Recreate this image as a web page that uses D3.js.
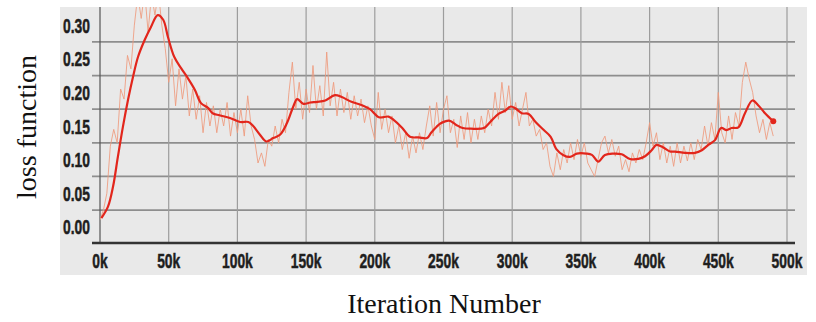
<!DOCTYPE html>
<html>
<head>
<meta charset="utf-8">
<script src="https://cdn.jsdelivr.net/npm/d3@7"></script>
<style>
  body { margin: 0; background: #fff; }
  .tick-label { font-family: 'Liberation Sans', Arial, sans-serif; font-weight: bold; font-size: 21px; fill: #1e1e1e; stroke: #1e1e1e; stroke-width: 0.5px; }
  .title { font-family: 'Liberation Serif', 'Times New Roman', serif; font-size: 28px; fill: #111; }
</style>
</head>
<body>
<div id="chart"></div>
<script>
// raw loss, one sample every 2.5k iterations starting at 0
var rawStep = 2500;
var rawLoss = [
  0.010, 0.025, 0.050, 0.120, 0.145, 0.125, 0.205, 0.190, 0.255, 0.235,
  0.300, 0.345, 0.310, 0.350, 0.290, 0.345, 0.315, 0.350, 0.300, 0.265,
  0.215, 0.250, 0.180, 0.235, 0.190, 0.225, 0.165, 0.205, 0.160, 0.195,
  0.140, 0.185, 0.150, 0.180, 0.140, 0.175, 0.150, 0.185, 0.135, 0.170,
  0.140, 0.175, 0.135, 0.195, 0.150, 0.130, 0.095, 0.110, 0.090, 0.130,
  0.120, 0.150, 0.125, 0.160, 0.140, 0.200, 0.245, 0.175, 0.215, 0.160,
  0.205, 0.170, 0.240, 0.175, 0.210, 0.165, 0.260, 0.180, 0.215, 0.165,
  0.205, 0.170, 0.200, 0.160, 0.195, 0.165, 0.190, 0.155, 0.180, 0.150,
  0.130, 0.200, 0.145, 0.175, 0.140, 0.165, 0.125, 0.150, 0.115, 0.140,
  0.102, 0.135, 0.110, 0.140, 0.115, 0.150, 0.180, 0.135, 0.185, 0.140,
  0.175, 0.195, 0.140, 0.160, 0.118, 0.165, 0.130, 0.170, 0.125, 0.160,
  0.130, 0.165, 0.140, 0.175, 0.150, 0.200, 0.160, 0.215, 0.170, 0.210,
  0.160, 0.185, 0.150, 0.175, 0.200, 0.150, 0.160, 0.135, 0.145, 0.115,
  0.125, 0.090, 0.075, 0.110, 0.085, 0.115, 0.095, 0.125, 0.100, 0.130,
  0.105, 0.125, 0.095, 0.085, 0.075, 0.100, 0.125, 0.135, 0.110, 0.130,
  0.105, 0.120, 0.085, 0.100, 0.082, 0.110, 0.095, 0.115, 0.100, 0.125,
  0.155, 0.120, 0.140, 0.100, 0.125, 0.095, 0.120, 0.090, 0.125, 0.095,
  0.120, 0.098, 0.125, 0.100, 0.130, 0.115, 0.150, 0.120, 0.155, 0.130,
  0.200, 0.140, 0.125, 0.165, 0.130, 0.170, 0.150, 0.215, 0.245, 0.220,
  0.200, 0.165, 0.140, 0.160, 0.130, 0.155, 0.135
];

// smoothed curve: [iteration (k), loss]
var smoothLoss = [
  [1, 0.013], [5.8, 0.030], [9.5, 0.060], [13, 0.104], [16.7, 0.149], [20.4, 0.189],
  [24, 0.223], [27.7, 0.253], [32.5, 0.278], [37, 0.297], [42, 0.315], [46, 0.308],
  [49.5, 0.282], [54, 0.253], [59, 0.236], [64, 0.221], [69, 0.204], [73.5, 0.184],
  [78.6, 0.177], [82, 0.169], [87, 0.166], [94.6, 0.162], [102, 0.156], [108, 0.156],
  [111, 0.151], [116.4, 0.137], [121, 0.127], [126, 0.132], [131, 0.137], [136, 0.154],
  [140.7, 0.179], [143.5, 0.190], [148, 0.183], [153, 0.185], [158, 0.186], [164, 0.188],
  [171, 0.196], [176, 0.193], [183, 0.186], [190.7, 0.181], [196.5, 0.175], [203, 0.163],
  [210, 0.164], [213.7, 0.159], [220, 0.147], [225.6, 0.134], [232, 0.133], [238, 0.132],
  [241, 0.140], [245, 0.149], [248, 0.154], [254, 0.158], [259, 0.152], [264, 0.147],
  [270, 0.146], [279.5, 0.147], [284, 0.156], [290, 0.168], [295, 0.173], [299, 0.179],
  [302.5, 0.176], [307, 0.169], [312, 0.168], [317, 0.156], [323, 0.144], [328, 0.134],
  [332, 0.116], [337, 0.107], [342, 0.104], [347, 0.109], [354, 0.109], [358, 0.107],
  [362.7, 0.097], [367.5, 0.107], [373.6, 0.109], [379.7, 0.108], [385.7, 0.101], [391.8, 0.101],
  [396.7, 0.105], [401.5, 0.114], [405, 0.122], [410, 0.118], [415, 0.112], [418.5, 0.112],
  [425.8, 0.110], [433, 0.110], [438, 0.114], [442.7, 0.122], [447.6, 0.129], [452, 0.147],
  [456, 0.144], [459.7, 0.147], [464.6, 0.148], [469.4, 0.169], [474.8, 0.188], [479, 0.181],
  [484, 0.169], [490, 0.157]
];

var yTicks = [0, 0.05, 0.10, 0.15, 0.20, 0.25, 0.30];
var yGrid = [0.025, 0.075, 0.125, 0.175, 0.225, 0.275];
var xTicks = [0, 50000, 100000, 150000, 200000, 250000, 300000, 350000, 400000, 450000, 500000];

var width = 816;
var height = 322;

var svg = d3.select("#chart")
  .append("svg")
    .attr("width", width)
    .attr("height", height);

var x = d3.scaleLinear().domain([0, 500000]).range([100, 787]);
var y = d3.scaleLinear().domain([-0.024, 0.327]).range([243, 7]);

// grey panel
svg.append("rect")
  .attr("x", 60).attr("y", 7)
  .attr("width", 747).attr("height", 268)
  .attr("fill", "#e9e9e9");

// gridlines
svg.append("g").selectAll("line")
  .data(yGrid)
  .enter().append("line")
    .attr("x1", 92).attr("x2", 795)
    .attr("y1", function(d) { return y(d); })
    .attr("y2", function(d) { return y(d); })
    .attr("stroke", "#8e8e8e")
    .attr("stroke-width", 1.8);

svg.append("g").selectAll("line")
  .data(xTicks.slice(1))
  .enter().append("line")
    .attr("x1", function(d) { return x(d); })
    .attr("x2", function(d) { return x(d); })
    .attr("y1", 7).attr("y2", 243)
    .attr("stroke", "#9d9d9d")
    .attr("stroke-width", 1.2);

// axes lines
svg.append("line")
  .attr("x1", x(0)).attr("x2", x(0))
  .attr("y1", 7).attr("y2", 243)
  .attr("stroke", "#555").attr("stroke-width", 1.2);

svg.append("line")
  .attr("x1", 92).attr("x2", 795)
  .attr("y1", 243).attr("y2", 243)
  .attr("stroke", "#333").attr("stroke-width", 2.5);

svg.append("clipPath")
    .attr("id", "plot-clip")
  .append("rect")
    .attr("x", 100).attr("y", 7)
    .attr("width", 695).attr("height", 236);

var plot = svg.append("g").attr("clip-path", "url(#plot-clip)");

var rawLine = d3.line()
  .x(function(d, i) { return x(i * rawStep); })
  .y(function(d) { return y(d); });

plot.append("path")
  .datum(rawLoss)
  .attr("fill", "none")
  .attr("stroke", "#ee9a7c")
  .attr("stroke-opacity", 0.85)
  .attr("stroke-width", 1)
  .attr("d", rawLine);

var smoothLine = d3.line()
  .curve(d3.curveCatmullRom)
  .x(function(d) { return x(d[0] * 1000); })
  .y(function(d) { return y(d[1]); });

plot.append("path")
  .datum(smoothLoss)
  .attr("fill", "none")
  .attr("stroke", "#e2261c")
  .attr("stroke-width", 2.2)
  .attr("d", smoothLine);

var last = smoothLoss[smoothLoss.length - 1];
plot.append("circle")
  .attr("cx", x(last[0] * 1000))
  .attr("cy", y(last[1]))
  .attr("r", 3)
  .attr("fill", "#e2261c");

// tick labels (squeezed horizontally, like the condensed original)
svg.append("g").selectAll("text")
  .data(yTicks)
  .enter().append("text")
    .attr("class", "tick-label")
    .attr("transform", function(d) { return "translate(90," + y(d) + ") scale(0.66,1)"; })
    .attr("dy", "0.36em")
    .attr("text-anchor", "end")
    .text(function(d) { return d3.format(".2f")(d); });

svg.append("g").selectAll("text")
  .data(xTicks)
  .enter().append("text")
    .attr("class", "tick-label")
    .attr("transform", function(d) { return "translate(" + x(d) + ",268) scale(0.66,1)"; })
    .attr("text-anchor", "middle")
    .text(function(d) { return (d / 1000) + "k"; });

// axis titles
svg.append("text")
  .attr("class", "title")
  .attr("transform", "translate(36,127) rotate(-90)")
  .attr("text-anchor", "middle")
  .text("loss function");

svg.append("text")
  .attr("class", "title")
  .attr("x", 444)
  .attr("y", 313)
  .attr("text-anchor", "middle")
  .text("Iteration Number");
</script>
</body>
</html>
